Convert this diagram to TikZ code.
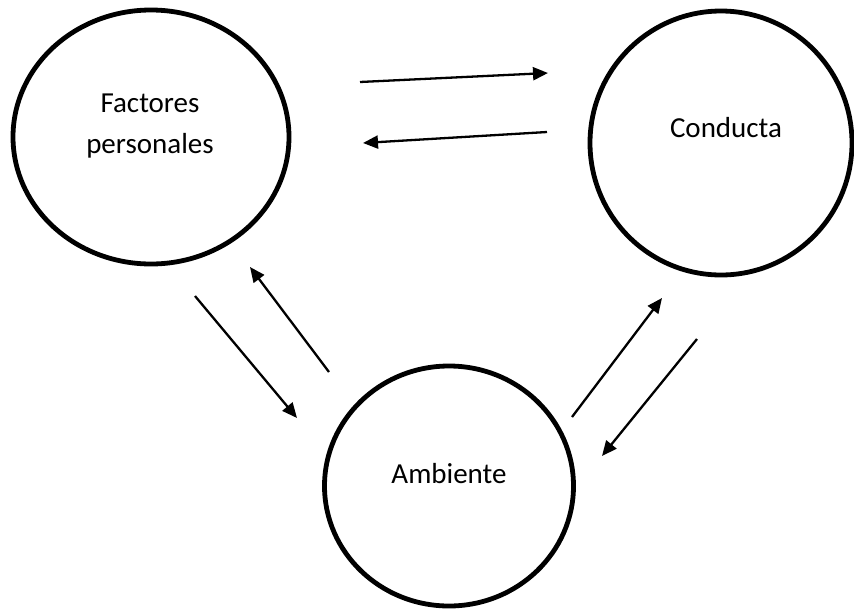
\documentclass[tikz,border=0pt]{standalone}
\usepackage{fontspec}
\setmainfont{Carlito}
\usetikzlibrary{arrows.meta,shapes.geometric}
\begin{document}
\begin{tikzpicture}[x=1pt,y=-1pt,
  bubble/.style={ellipse, draw=black, line width=4.8pt, inner sep=0pt},
  lbl/.style={anchor=base, inner sep=0pt, font=\fontsize{29}{34}\selectfont},
  conn/.style={line width=2.3pt, -{Triangle[length=15pt,width=13pt]}}]
\useasboundingbox (0,0) rectangle (854,611);
\node[bubble, minimum width=276pt, minimum height=254pt] (fp) at (151,137) {};
\node[bubble, minimum width=262pt, minimum height=264pt] (co) at (721,143) {};
\node[bubble, minimum width=249pt, minimum height=240pt] (am) at (449,486) {};
\node[lbl] (fpa) at (150,112) {Factores};
\node[lbl] (fpb) at (150,153) {personales};
\node[lbl] (cot) at (726,137) {Conducta};
\node[lbl] (amt) at (449,483) {Ambiente};
\coordinate (a1s) at (360,82);  \coordinate (a1e) at (548,73);
\coordinate (a2s) at (547,132); \coordinate (a2e) at (363,143);
\coordinate (a3s) at (195,296); \coordinate (a3e) at (297,418);
\coordinate (a4s) at (329,372); \coordinate (a4e) at (250,267);
\coordinate (a5s) at (572,417); \coordinate (a5e) at (662,298);
\coordinate (a6s) at (697,339); \coordinate (a6e) at (602,456);
\draw[conn] (a1s) -- (a1e);
\draw[conn] (a2s) -- (a2e);
\draw[conn] (a3s) -- (a3e);
\draw[conn] (a4s) -- (a4e);
\draw[conn] (a5s) -- (a5e);
\draw[conn] (a6s) -- (a6e);
\end{tikzpicture}
\end{document}
